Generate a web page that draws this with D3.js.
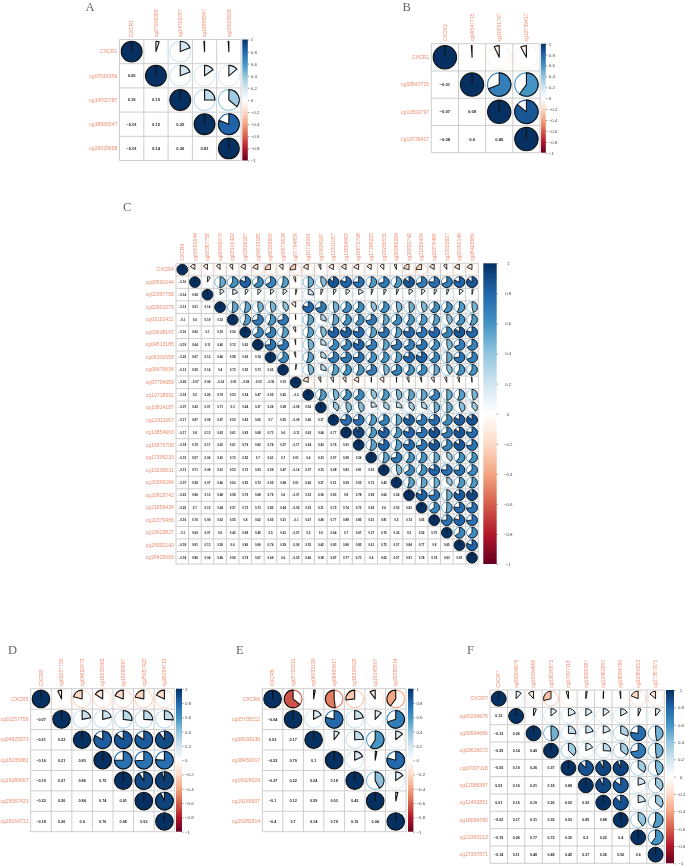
<!DOCTYPE html>
<html>
<head>
<meta charset="utf-8">
<script src="https://cdn.jsdelivr.net/npm/d3@7/dist/d3.min.js"></script>
<style>
html,body{margin:0;padding:0;background:#fff;}
svg{display:block;filter:blur(0.4px);}
text{font-family:"Liberation Sans",Helvetica,Arial,sans-serif;}
</style>
</head>
<body>
<svg class="graph"></svg>
<script>
// lower triangle of each correlation matrix, row by row
let namesA=['CXCR1','cg07016356','cg14702787','cg18956547','cg20025658']
let corrA=[[0.05],[0.19,0.19],[-0.01,0.15,0.25],[-0.01,0.14,0.36,0.81]]

let namesB=['CXCR2','cg09547715','cg10591797','cg13739417']
let corrB=[[-0.01],[-0.07,0.69],[-0.08,0.6,0.86]]

let namesC=['CXCR4','cg00591644','cg02367758','cg02902079','cg03101422','cg03608167','cg04513185','cg06332659','cg06679634','cg07794959','cg10718991','cg10824187','cg12311057','cg13854963','cg16675708','cg17396233','cg19236531','cg20366284','cg20823742','cg21859434','cg22376465','cg23923827','cg25992140','cg26425669']
let corrC=[
[-0.16],
[-0.14,0.08],
[-0.12,0.51,0.14],
[-0.1,0.6,0.19,0.52],
[-0.16,0.82,0.1,0.53,0.56],
[-0.19,0.64,0.11,0.46,0.72,0.65],
[-0.25,0.67,0.12,0.46,0.58,0.69,0.74],
[-0.13,0.55,0.14,0.4,0.72,0.55,0.73,0.65],
[-0.26,-0.07,0.04,-0.14,-0.01,-0.08,-0.03,-0.05,0.03],
[-0.18,0.5,0.26,0.79,0.53,0.54,0.47,0.55,0.45,-0.2],
[-0.07,0.43,0.07,0.71,0.3,0.44,0.27,0.29,0.28,-0.08,0.56],
[-0.17,0.87,0.09,0.47,0.53,0.82,0.65,0.7,0.55,-0.09,0.46,0.37],
[-0.17,0.8,0.13,0.62,0.61,0.83,0.68,0.73,0.6,-0.11,0.62,0.44,0.77],
[-0.18,0.75,0.17,0.62,0.61,0.79,0.82,0.74,0.57,-0.17,0.64,0.43,0.76,0.93],
[-0.15,0.57,0.06,0.41,0.72,0.55,0.7,0.61,0.7,0.01,0.4,0.23,0.57,0.58,0.54],
[-0.13,0.71,0.08,0.61,0.53,0.75,0.53,0.59,0.47,-0.14,0.57,0.33,0.68,0.83,0.81,0.53],
[-0.07,0.58,0.07,0.46,0.63,0.55,0.72,0.55,0.68,0.01,0.45,0.27,0.51,0.59,0.55,0.73,0.45],
[-0.22,0.86,0.13,0.48,0.58,0.79,0.68,0.79,0.6,-0.07,0.53,0.36,0.83,0.8,0.78,0.59,0.66,0.54],
[-0.25,0.7,0.12,0.44,0.57,0.73,0.73,0.82,0.64,-0.05,0.52,0.31,0.72,0.74,0.72,0.59,0.6,0.52,0.82],
[-0.16,0.76,0.09,0.62,0.55,0.8,0.62,0.65,0.51,-0.1,0.67,0.49,0.77,0.88,0.85,0.51,0.81,0.5,0.74,0.65],
[-0.1,0.69,0.07,0.6,0.42,0.68,0.45,0.5,0.41,-0.07,0.5,0.5,0.64,0.7,0.67,0.37,0.76,0.36,0.5,0.52,0.75],
[-0.18,0.81,0.13,0.56,0.6,0.86,0.69,0.74,0.59,-0.06,0.55,0.42,0.83,0.86,0.85,0.61,0.75,0.57,0.84,0.77,0.8,0.65],
[-0.18,0.86,0.04,0.46,0.56,0.79,0.67,0.69,0.6,-0.02,0.46,0.38,0.87,0.77,0.73,0.6,0.65,0.57,0.91,0.74,0.74,0.63,0.81]
]

let namesD=['CXCR5','cg01257759','cg04625973','cg16235962','cg16280667','cg25087423','cg26164712']
let corrD=[[-0.07],[-0.21,0.22],[-0.16,0.21,0.83],[-0.19,0.27,0.86,0.75],[-0.22,0.26,0.84,0.74,0.91],[-0.18,0.26,0.9,0.76,0.95,0.93]]

let namesE=['CXCR6','cg05705212','cg06033130','cg08450017','cg16326029','cg19145607','cg25289314']
let corrE=[[-0.64],[0.03,0.17],[-0.52,0.79,0.1],[-0.27,0.22,0.24,0.18],[-0.1,0.12,0.59,0.03,0.42],[-0.4,0.7,0.14,0.79,0.15,0.04]]

let namesF=['CXCR7','cg00204976','cg00594666','cg03626672','cg07007118','cg12086387','cg12462851','cg18094780','cg22360213','cg27367871']
let corrF=[
[0.12],
[-0.12,0.06],
[-0.29,0.14,0.49],
[-0.05,0.19,0.26,0.37],
[0.03,0.16,0.21,0.18,0.88],
[0.01,0.15,0.19,0.26,0.92,0.92],
[-0.02,0.17,0.31,0.35,0.93,0.85,0.88],
[-0.19,0.06,0.77,0.72,0.35,0.2,0.22,0.4],
[-0.14,0.11,0.48,0.48,0.45,0.37,0.36,0.56,0.6]
]

let legendTicks=[-1,-0.8,-0.6,-0.4,-0.2,0,0.2,0.4,0.6,0.8,1]
let legendColors=['#67001F','#B2182B','#D6604D','#F4A582','#FDDBC7','#FFFFFF','#D1E5F0','#92C5DE','#4393C3','#2166AC','#053061']

let width=685, height=866
let svg=d3.select('.graph').attr('width',width).attr('height',height)

let color=d3.scaleLinear().domain(legendTicks).range(legendColors)
let minus=v=>String(v).replace('-','\u2212')

// one gradient for every colour bar
let grad=svg.append('defs').append('linearGradient').attr('id','barGrad')
    .attr('x1','0%').attr('y1','100%').attr('x2','0%').attr('y2','0%')
legendTicks.forEach((t,i)=>{
    grad.append('stop').attr('offset',(i*10)+'%').attr('stop-color',legendColors[i])
})

let labelColor='#f08c70'

function drawPanel(p){
    let n=p.names.length
    let g=svg.append('g')
    let x=d3.scaleBand().domain(p.names).range([p.left,p.right])
    let y=d3.scaleBand().domain(p.names).range([p.top,p.bottom])
    let cw=x.bandwidth(), ch=y.bandwidth()
    let r=Math.min(cw,ch)*0.43
    let arc=d3.arc().innerRadius(0).outerRadius(r)

    g.append('text').text(p.letter).attr('x',p.letterX).attr('y',p.letterY)
        .style('font-family','"Liberation Serif",serif').style('font-size','12.5px').style('fill','#666')

    // grid
    let gridLines=g.append('g').attr('stroke','#cdcdcd').attr('stroke-width',1)
    d3.range(n+1).forEach(i=>{
        let gx=p.left+i*cw, gy=p.top+i*ch
        gridLines.append('line').attr('x1',gx).attr('x2',gx).attr('y1',p.top).attr('y2',p.bottom)
        gridLines.append('line').attr('y1',gy).attr('y2',gy).attr('x1',p.left).attr('x2',p.right)
    })

    // labels
    g.selectAll('rowlabel').data(p.names).join('text')
        .attr('x',p.left-2.2).attr('y',d=>y(d)+ch/2+1.7)
        .attr('text-anchor','end').style('font-size','5.1px').style('fill',labelColor).text(d=>d)
    g.selectAll('collabel').data(p.names).join('text')
        .attr('transform',d=>`translate(${x(d)+cw/2+1.7},${p.top-2.2}) rotate(-90)`)
        .style('font-size','5.1px').style('fill',labelColor).text(d=>d)

    // lower triangle numbers, upper triangle pies
    p.corr.forEach((row,ri)=>{
        row.forEach((v,ci)=>{
            g.append('text').attr('x',x(p.names[ci])+cw/2).attr('y',y(p.names[ri+1])+ch/2+p.numSize*0.36)
                .attr('text-anchor','middle').style('font-size',p.numSize+'px').style('font-weight','bold')
                .style('fill','#222').text(minus(v))
            let cell=g.append('g').attr('transform',`translate(${x(p.names[ri+1])+cw/2},${y(p.names[ci])+ch/2})`)
            cell.append('circle').attr('r',r).attr('fill','white').attr('stroke',color(v)).attr('stroke-width',p.pieStroke)
            cell.append('path')
                .attr('d',arc({startAngle:0,endAngle:v*2*Math.PI}))
                .attr('fill',color(v)).attr('stroke','#111').attr('stroke-width',p.pieStroke).attr('stroke-linejoin','round')
        })
    })

    // diagonal
    p.names.forEach(d=>{
        let cell=g.append('g').attr('transform',`translate(${x(d)+cw/2},${y(d)+ch/2})`)
        cell.append('circle').attr('r',r).attr('fill',color(1)).attr('stroke','#111').attr('stroke-width',p.pieStroke)
        cell.append('line').attr('y1',0).attr('y2',-r).attr('stroke','#111').attr('stroke-width',p.pieStroke)
    })

    // colour bar
    g.append('rect').attr('x',p.barX).attr('y',p.top).attr('width',p.barW).attr('height',p.bottom-p.top)
        .attr('fill','url(#barGrad)')
    let barScale=d3.scaleLinear().domain([-1,1]).range([p.bottom,p.top])
    let axis=g.append('g').attr('transform',`translate(${p.barX+p.barW},0)`)
        .call(d3.axisRight(barScale).tickValues(legendTicks).tickSize(1.5).tickPadding(p.barPad).tickFormat(minus))
    axis.select('.domain').remove()
    axis.selectAll('line').attr('stroke','#333').attr('stroke-width',0.5)
    axis.selectAll('text').style('font-size','4.4px').style('fill','#444')
        .attr('text-anchor',p.barAnchor)
}

let panels=[
 {letter:'A',letterX:85.5,letterY:11,names:namesA,corr:corrA,left:119.5,right:241,top:39.5,bottom:160.5,numSize:4.1,pieStroke:1.1,barX:242.3,barW:5.5,barPad:1.5,barAnchor:'start'},
 {letter:'B',letterX:402.5,letterY:11,names:namesB,corr:corrB,left:431.3,right:540,top:43.7,bottom:152.7,numSize:4.2,pieStroke:1.1,barX:541,barW:4.8,barPad:1.5,barAnchor:'start'},
 {letter:'C',letterX:123,letterY:211,names:namesC,corr:corrC,left:176,right:478.3,top:263.3,bottom:564,numSize:3,pieStroke:0.85,barX:483.3,barW:13.4,barPad:10,barAnchor:'middle'},
 {letter:'D',letterX:8,letterY:654,names:namesD,corr:corrD,left:30.7,right:174.7,top:688.7,bottom:831.7,numSize:3.8,pieStroke:1.1,barX:176,barW:6,barPad:1.5,barAnchor:'start'},
 {letter:'E',letterX:236,letterY:654,names:namesE,corr:corrE,left:262.3,right:406,top:688.7,bottom:831.7,numSize:3.8,pieStroke:1.1,barX:408,barW:5.4,barPad:1.5,barAnchor:'start'},
 {letter:'F',letterX:467,letterY:654,names:namesF,corr:corrF,left:490,right:664.3,top:690,bottom:863.3,numSize:3.6,pieStroke:1,barX:666,barW:8,barPad:5.5,barAnchor:'middle'}
]
panels.forEach(drawPanel)
</script>
</body>
</html>
